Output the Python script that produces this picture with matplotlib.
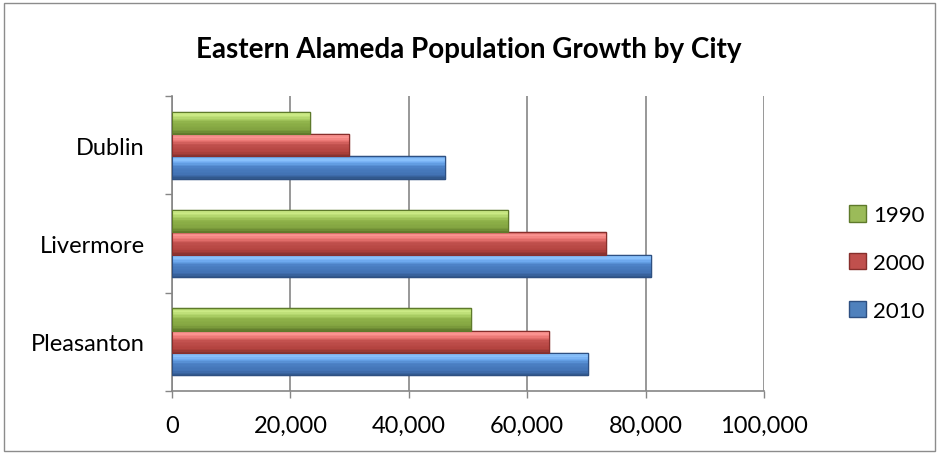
import matplotlib
matplotlib.use("Agg")
import matplotlib.pyplot as plt
import numpy as np
from matplotlib.patches import Rectangle, Patch
from matplotlib.colors import to_rgb

plt.rcParams['font.family'] = ['Lato', 'DejaVu Sans']

cities = ["Pleasanton", "Livermore", "Dublin"]
years = ["2010", "2000", "1990"]
pop_2010 = [70285, 80968, 46036]
pop_2000 = [63654, 73345, 29973]
pop_1990 = [50553, 56741, 23229]
x_ticks = [0, 20000, 40000, 60000, 80000, 100000]

series = [pop_2010, pop_2000, pop_1990]
# gradient stops top -> bottom for each series
stops_pos = [0.0, 0.12, 0.3, 0.48, 0.8, 1.0]
stops = [
    ["#5f98dc", "#8fc6ff", "#6aa6ec", "#4b80c4", "#4272b4", "#2f5487"],
    ["#d0605d", "#ff9b98", "#ea7572", "#c0504d", "#b3433f", "#86302d"],
    ["#9dc25a", "#d2ef8c", "#b0d46a", "#8fb24a", "#82a340", "#5e7a2b"],
]
edge_c = ["#2e5082", "#872f2c", "#5e7a2b"]
main_c = ["#4f81bd", "#c0504d", "#9bbb59"]

def grad_color(st, t):
    cols = np.array([to_rgb(c) for c in st])
    return tuple(np.interp(t, stops_pos, cols[:, k]) for k in range(3))

fig = plt.figure(figsize=(9.4, 4.56), dpi=100)
ax = fig.add_axes([172/940, 1-392/456, (764-172)/940, (392-97)/456])

h = 0.228
n_strips = 16
y = np.arange(len(cities))
for i, vals in enumerate(series):
    off = (i - 1) * h
    ax.barh(y + off, vals, height=h, color=main_c[i], edgecolor=edge_c[i], linewidth=1.0, zorder=3)
    sh = h / n_strips
    for k in range(n_strips):
        t = (k + 0.5) / n_strips
        yc = y + off + h / 2 - (k + 0.5) * sh
        ax.barh(yc, vals, height=sh * 1.05, color=grad_color(stops[i], t), linewidth=0, zorder=4)
    ax.barh(y + off, vals, height=h, fill=False, edgecolor=edge_c[i], linewidth=0.8, zorder=5)

ax.set_xlim(0, 100000)
ax.set_ylim(-0.5, 2.5)
ax.set_xticks(x_ticks)
ax.set_xticklabels([f"{v:,}" for v in x_ticks])
ax.set_yticks(y)
ax.set_yticklabels(cities)
ax.set_yticks([-0.5, 0.5, 1.5, 2.5], minor=True)
ax.tick_params(axis='y', which='major', length=0, pad=19.5, labelsize=17)
ax.tick_params(axis='y', which='minor', length=5, width=1, color="#868686", direction='out')
ax.tick_params(axis='x', which='major', length=5, width=1, color="#868686", pad=12, labelsize=17)
ax.grid(axis='x', color="#868686", linewidth=1.2, zorder=0)
for s in ['top', 'right']:
    ax.spines[s].set_visible(False)
for s in ['left', 'bottom']:
    ax.spines[s].set_color("#868686")
    ax.spines[s].set_linewidth(1.2)

fig.text(469/940, 1-50/456, "Eastern Alameda Population Growth by City",
         ha='center', va='center', fontsize=20, fontweight='bold')

handles = [Patch(facecolor=main_c[2], edgecolor=edge_c[2], label="1990"),
           Patch(facecolor=main_c[1], edgecolor=edge_c[1], label="2000"),
           Patch(facecolor=main_c[0], edgecolor=edge_c[0], label="2010")]
fig.legend(handles=handles, loc='center left', bbox_to_anchor=(849/940, 1-264/456),
           frameon=False, fontsize=16, handlelength=0.75, handleheight=0.75,
           handletextpad=0.35, labelspacing=1.25, borderaxespad=0, borderpad=0)

fig.patches.append(Rectangle((4/940, 4/456), 931/940, 448/456, transform=fig.transFigure,
                             fill=False, edgecolor="#8c8c8c", linewidth=1.0))

fig.savefig("out.png", dpi=100)
